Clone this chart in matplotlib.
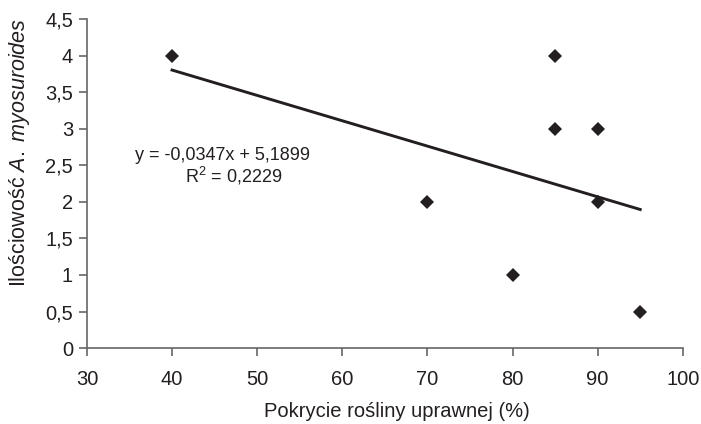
import numpy as np
import matplotlib.pyplot as plt

plt.rcParams['font.family'] = ['Liberation Sans', 'DejaVu Sans']
plt.rcParams['mathtext.fontset'] = 'custom'
plt.rcParams['mathtext.rm'] = 'Liberation Sans'
plt.rcParams['mathtext.it'] = 'Liberation Sans:italic'

# data
coverage = [40, 70, 80, 85, 85, 90, 90, 95]
abundance = [4, 2, 1, 4, 3, 3, 2, 0.5]

x_ticks = [30, 40, 50, 60, 70, 80, 90, 100]
y_ticks = [0, 0.5, 1, 1.5, 2, 2.5, 3, 3.5, 4, 4.5]
y_tick_labels = ['0', '0,5', '1', '1,5', '2', '2,5', '3', '3,5', '4', '4,5']

# linear trend
slope, intercept = np.polyfit(coverage, abundance, 1)
xs = np.array([min(coverage), max(coverage)])

ink = '#231f20'

fig = plt.figure(figsize=(7.01, 4.24), dpi=100)
ax = fig.add_axes([0.124, 0.179, 0.850, 0.776])

ax.plot(coverage, abundance, 'D', color=ink, ms=7, mew=0, zorder=3)
ax.plot(xs, slope * xs + intercept, color=ink, lw=2.1, zorder=2)

ax.set_xlim(30, 100)
ax.set_ylim(0, 4.5)
ax.set_xticks(x_ticks)
ax.set_yticks(y_ticks)
ax.set_yticklabels(y_tick_labels)

for side in ['top', 'right']:
    ax.spines[side].set_visible(False)
for side in ['left', 'bottom']:
    ax.spines[side].set_color('#666666')
    ax.spines[side].set_linewidth(1.2)
ax.tick_params(axis='both', colors='#666666', labelcolor=ink,
               labelsize=14.5, length=6, width=1.2, direction='out')
ax.tick_params(axis='x', pad=10)
ax.tick_params(axis='y', pad=4)

ax.set_xlabel('Pokrycie rośliny uprawnej (%)', fontsize=14.5, color=ink)
ax.xaxis.set_label_coords(0.52, -0.165)
ax.set_ylabel('Ilościowość $\\it{A.\\ myosuroides}$', fontsize=15.5, color=ink)
ax.yaxis.set_label_coords(-0.092, 0.595)

ax.text(45.97, 2.57, 'y = -0,0347x + 5,1899', fontsize=13, color=ink,
        ha='center', va='baseline')
ax.text(47.26, 2.27, 'R$^2$ = 0,2229', fontsize=13, color=ink,
        ha='center', va='baseline')

fig.savefig('out.png', dpi=100)
